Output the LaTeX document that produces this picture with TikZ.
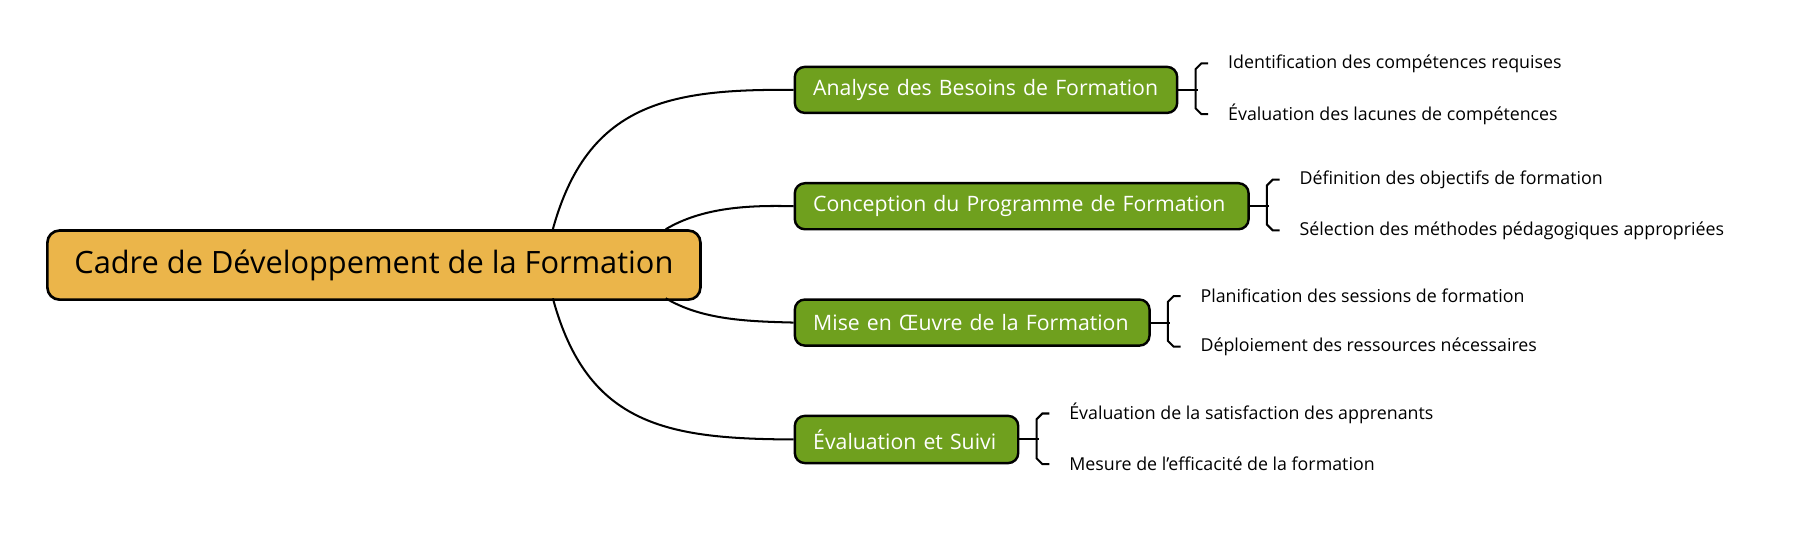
\documentclass[tikz,border=0pt]{standalone}
\usepackage{fontspec}
\setmainfont{Open Sans}
\begin{document}
\begin{tikzpicture}[x=0.02cm,y=-0.02cm,
 root/.style={draw=black,line width=1.3pt,rounded corners=6pt,fill={rgb,255:red,235;green,181;blue,74},anchor=north west,inner sep=0pt,font=\fontsize{15.2}{18}\selectfont},
 br/.style={draw=black,line width=1.2pt,rounded corners=5pt,fill={rgb,255:red,111;green,160;blue,30},text=white,anchor=north west,inner ysep=0pt,inner xsep=16*0.02cm,align=left,font=\fontsize{10.5}{13}\selectfont},
 leaf/.style={anchor=west,inner sep=0pt,font=\fontsize{8.8}{11}\selectfont},
 con/.style={line width=1pt}]
\useasboundingbox (0,0) rectangle (1568,471);
\node[root,minimum width=567*0.02cm,minimum height=60*0.02cm] (c) at (40,199) {Cadre de Développement de la Formation};
\node[br,text width=300*0.02cm,minimum height=40*0.02cm] (b1) at (689,57) {Analyse des Besoins de Formation};
\node[br,text width=362*0.02cm,minimum height=40*0.02cm] (b2) at (689,158) {Conception du Programme de Formation};
\node[br,text width=276*0.02cm,minimum height=40*0.02cm] (b3) at (689,259) {Mise en Œuvre de la Formation};
\node[br,text width=162*0.02cm,minimum height=41*0.02cm] (b4) at (689,360) {Évaluation et Suivi};
\coordinate (c1) at (480,199); \coordinate (c2) at (578,199);
\coordinate (c3) at (578,259); \coordinate (c4) at (480,259);
\draw[con] (c1) .. controls (510,90) and (580,77) .. (b1.west);
\draw[con] (c2) .. controls (610,180) and (650,178) .. (b2.west);
\draw[con] (c3) .. controls (610,278) and (650,279) .. (b3.west);
\draw[con] (c4) .. controls (510,370) and (580,381) .. (b4.west);
\foreach \n/\x/\y/\a/\b in {1/1021/77/Identification des compétences requises/Évaluation des lacunes de compétences,
 2/1083/178/Définition des objectifs de formation/Sélection des méthodes pédagogiques appropriées,
 3/997/279/Planification des sessions de formation/Déploiement des ressources nécessaires,
 4/883/381/Évaluation de la satisfaction des apprenants/Mesure de l'efficacité de la formation}{
 \node[leaf] (l\n a) at (\x+45,\y-22) {\a};
 \node[leaf] (l\n b) at (\x+45,\y+22) {\b};
 \draw[con] (b\n.east) -- ++(17,0);
 \draw[con] (\x+28,\y-22) -- ++(-6,0) -- ++(-5,5) -- ++(0,34) -- ++(5,5) -- ++(6,0);
}
\end{tikzpicture}
\end{document}
